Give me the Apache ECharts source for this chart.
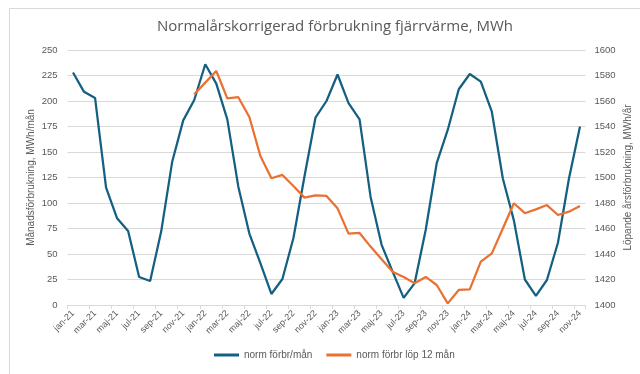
<!DOCTYPE html>
<html>
<head>
<meta charset="utf-8">
<script src="https://cdn.jsdelivr.net/npm/echarts@6/dist/echarts.min.js"></script>
<style>
  html, body { margin: 0; padding: 0; background: #ffffff; }
  #chart { width: 640px; height: 374px; }
</style>
</head>
<body>
<div id="chart"></div>
<script>
// Months jan-21 .. nov-24
const months = [
  'jan-21','feb-21','mar-21','apr-21','maj-21','jun-21','jul-21','aug-21','sep-21','okt-21','nov-21','dec-21',
  'jan-22','feb-22','mar-22','apr-22','maj-22','jun-22','jul-22','aug-22','sep-22','okt-22','nov-22','dec-22',
  'jan-23','feb-23','mar-23','apr-23','maj-23','jun-23','jul-23','aug-23','sep-23','okt-23','nov-23','dec-23',
  'jan-24','feb-24','mar-24','apr-24','maj-24','jun-24','jul-24','aug-24','sep-24','okt-24','nov-24'
];

// Monthly consumption, MWh/mån
const monthly = [
  228, 209, 203, 115, 85, 72.5, 27.5, 23.5, 72, 140.5, 181, 201,
  236, 217, 182, 116, 70, 41, 10.8, 25.5, 65.7, 126, 183.6, 200,
  226, 198, 182, 106, 59, 32.7, 7, 21.5, 73.5, 139, 171.6, 211.5,
  226.5, 219, 189.5, 124, 83, 25, 9, 24.5, 61, 124, 175
];

// Rolling 12-month consumption, MWh/år (starts dec-21)
const rolling12 = [
  null, null, null, null, null, null, null, null, null, null, null, 1565.3,
  1574.4, 1583.5, 1562, 1563, 1547.5, 1516.9, 1499.4, 1502, 1493.3, 1484.2, 1486, 1485.5,
  1475.8, 1456, 1456.5, 1445.8, 1435.8, 1426, 1422, 1417, 1422, 1415.7, 1401.3, 1411.8,
  1412.3, 1434, 1440.5, 1460, 1479.8, 1472, 1475, 1478.4, 1470.6, 1473.2, 1477.6
];

const leftTicks = { min: 0, max: 250, interval: 25 };
const rightTicks = { min: 1400, max: 1600, interval: 20 };

const titleText = 'Normalårskorrigerad förbrukning fjärrvärme, MWh';
const leftName = 'Månadsförbrukning, MWh/mån';
const rightName = 'Löpande årsförbrukning, MWh/år';
const seriesNames = ['norm förbr/mån', 'norm förbr löp 12 mån'];

const textGrey = '#595959';
const gridGrey = '#d9d9d9';
const blue = '#156082';
const orange = '#e97132';
const font = '"Liberation Sans", Arial, sans-serif';

const chart = echarts.init(document.getElementById('chart'), null, { renderer: 'canvas' });

chart.setOption({
  animation: false,
  backgroundColor: '#ffffff',
  graphic: [{
    type: 'rect',
    shape: { x: 9.5, y: 8.5, width: 700, height: 500 },
    style: { fill: 'none', stroke: '#d9d9d9', lineWidth: 1 },
    silent: true
  }],
  title: {
    text: titleText,
    left: 152,
    top: 14,
    textStyle: { fontFamily: '"Open Sans", sans-serif', fontSize: 15, fontWeight: 'normal', color: textGrey }
  },
  legend: {
    bottom: 9,
    left: 209,
    itemWidth: 25,
    itemHeight: 3,
    itemGap: 14,
    icon: 'rect',
    textStyle: { fontFamily: font, fontSize: 10, color: textGrey },
    data: seriesNames
  },
  grid: { left: 67.5, right: 54.5, top: 50, bottom: 69, containLabel: false, outerBoundsMode: 'none' },
  xAxis: {
    type: 'category',
    data: months,
    boundaryGap: true,
    axisLine: { lineStyle: { color: gridGrey } },
    axisTick: { show: true, interval: 1, length: 4, lineStyle: { color: gridGrey } },
    axisLabel: { interval: 1, rotate: 45, fontFamily: font, fontSize: 9, color: textGrey, margin: 7 },
    splitLine: { show: false }
  },
  yAxis: [{
    type: 'value',
    min: leftTicks.min, max: leftTicks.max, interval: leftTicks.interval,
    name: leftName,
    nameLocation: 'middle',
    nameGap: 31,
    nameRotate: 90,
    nameMoveOverlap: false,
    nameTextStyle: { fontFamily: font, fontSize: 10, color: textGrey },
    axisLine: { show: false },
    axisTick: { show: false },
    axisLabel: { fontFamily: font, fontSize: 9.5, color: textGrey, margin: 10 },
    splitLine: { lineStyle: { color: gridGrey, width: 1 } }
  }, {
    type: 'value',
    min: rightTicks.min, max: rightTicks.max, interval: rightTicks.interval,
    name: rightName,
    nameLocation: 'middle',
    nameGap: 38,
    nameRotate: 90,
    nameMoveOverlap: false,
    nameTextStyle: { fontFamily: font, fontSize: 10, color: textGrey },
    axisLine: { show: false },
    axisTick: { show: false },
    axisLabel: { fontFamily: font, fontSize: 9.5, color: textGrey, margin: 9, formatter: v => String(v) },
    splitLine: { show: false }
  }],
  series: [{
    name: seriesNames[0],
    type: 'line',
    yAxisIndex: 0,
    data: monthly,
    symbol: 'none',
    lineStyle: { color: blue, width: 2.25 },
    itemStyle: { color: blue }
  }, {
    name: seriesNames[1],
    type: 'line',
    yAxisIndex: 1,
    data: rolling12,
    symbol: 'none',
    lineStyle: { color: orange, width: 2.25 },
    itemStyle: { color: orange }
  }]
});
</script>
</body>
</html>
